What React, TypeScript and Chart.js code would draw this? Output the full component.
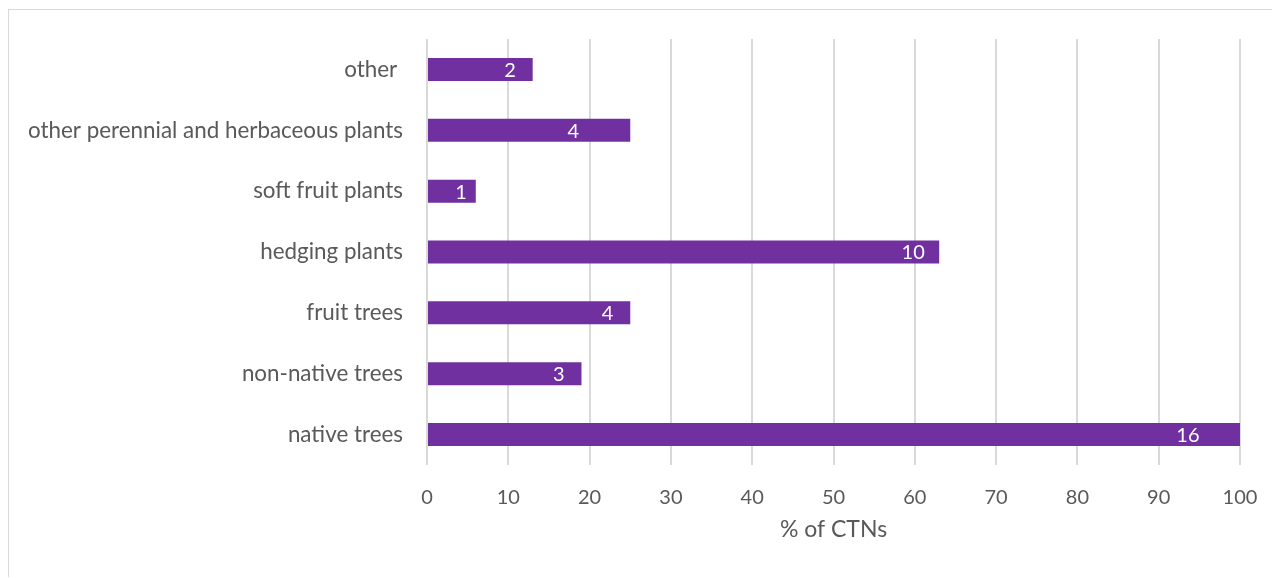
import React, { useEffect, useRef } from "react";
import { Chart, registerables } from "chart.js";

Chart.register(...registerables);

const categories = [
  "other ",
  "other perennial and herbaceous plants",
  "soft fruit plants",
  "hedging plants",
  "fruit trees",
  "non-native trees",
  "native trees",
];
const percentValues = [13, 25, 6, 63, 25, 19, 100];
const countLabels = ["2", "4", "1", "10", "4", "3", "16"];
const labelAt = [10.2, 18.0, 4.2, 59.8, 22.2, 16.2, 93.6];
const xTicks = [0, 10, 20, 30, 40, 50, 60, 70, 80, 90, 100];
const xTitle = "% of CTNs";

const FONT = "Lato, 'Open Sans', sans-serif";
const TEXT = "#595959";

const barLabels = {
  id: "barLabels",
  afterDatasetsDraw(chart: any) {
    const ctx = chart.ctx;
    const meta = chart.getDatasetMeta(0);
    const xs = chart.scales.x;
    ctx.save();
    ctx.fillStyle = "#ffffff";
    ctx.font = `20px ${FONT}`;
    ctx.textAlign = "center";
    ctx.textBaseline = "middle";
    meta.data.forEach((el: any, i: number) => {
      ctx.fillText(countLabels[i], xs.getPixelForValue(labelAt[i]), el.y + 1);
    });
    ctx.restore();
  },
};

export default function App() {
  const ref = useRef<HTMLCanvasElement>(null);
  useEffect(() => {
    document.body.style.overflow = "hidden";
    document.documentElement.style.overflow = "hidden";
    const chart = new Chart(ref.current!, {
      type: "bar",
      data: {
        labels: categories,
        datasets: [
          {
            data: percentValues,
            backgroundColor: "#7030A0",
            borderWidth: 0,
            barPercentage: 1,
            categoryPercentage: 0.378,
          },
        ],
      },
      options: {
        indexAxis: "y",
        responsive: false,
        animation: false,
        layout: { padding: { top: 29, right: 40, left: 0, bottom: 0 } },
        plugins: { legend: { display: false }, tooltip: { enabled: false } },
        scales: {
          x: {
            min: 0,
            max: 100,
            afterBuildTicks: (s: any) => {
              s.ticks = xTicks.map((v) => ({ value: v }));
            },
            afterFit: (s: any) => {
              s.height = 113;
            },
            grid: { color: "#d9d9d9", lineWidth: 2, drawTicks: false },
            border: { display: false },
            ticks: {
              color: TEXT,
              font: { family: FONT, size: 20 },
              padding: 21,
              maxRotation: 0,
            },
            title: {
              display: true,
              text: xTitle,
              color: TEXT,
              font: { family: FONT, size: 23 },
              padding: { top: 0, bottom: 35 },
            },
          },
          y: {
            afterFit: (s: any) => {
              s.width = 418;
              s.paddingTop = 0;
              s.paddingBottom = 0;
            },
            grid: { display: false, drawTicks: false },
            border: { display: false },
            ticks: {
              color: TEXT,
              font: { family: FONT, size: 22.4 },
              padding: 24,
            },
          },
        },
      },
      plugins: [barLabels],
    });
    return () => chart.destroy();
  }, []);

  return (
    <div
      style={{
        position: "relative",
        top: 1,
        borderTop: "1px solid #d9d9d9",
        borderLeft: "1px solid #d9d9d9",
        width: 1272,
        height: 569,
        boxSizing: "border-box",
        background: "#fff",
      }}
    >
      <canvas ref={ref} width={1271} height={568} style={{ display: "block" }} />
    </div>
  );
}
